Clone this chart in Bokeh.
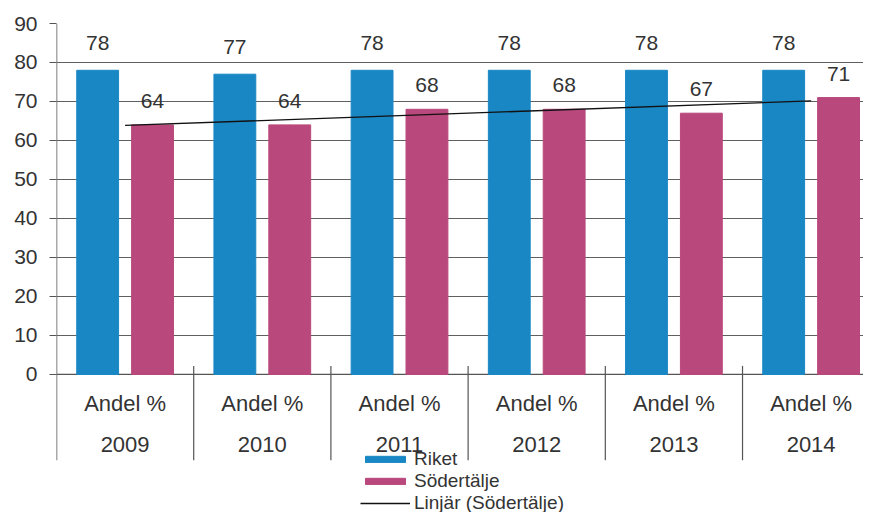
import numpy as np
from bokeh.plotting import figure
from bokeh.models import FixedTicker, Legend, LegendItem, Range1d
from bokeh.core.properties import value
from bokeh.embed import file_html
from bokeh.resources import INLINE

years = ["2009", "2010", "2011", "2012", "2013", "2014"]
sub_label = "Andel %"
riket = [78, 77, 78, 78, 78, 78]
sodertalje = [64, 64, 68, 68, 67, 71]
y_ticks = [0, 10, 20, 30, 40, 50, 60, 70, 80, 90]

FONT = "Liberation Sans"
BLUE = "#1a87c5"
PINK = "#b9487c"
TXT = "#333333"
AX = "#555555"

idx = np.arange(len(years))
centers = [float(i) + 0.5 for i in idx]
riket_x = [c - 0.2 for c in centers]
sod_x = [c + 0.2 for c in centers]

AXIS_BOTTOM = -22.0
X_END = 5.94

p = figure(width=863, height=512, output_backend="svg", toolbar_location=None,
           x_range=Range1d(0, X_END - 8 / 137.3), y_range=Range1d(-35.4, 90),
           min_border_left=56, min_border_right=0, min_border_top=23, min_border_bottom=0)
p.outline_line_color = None
p.background_fill_color = "white"

# axes
p.xaxis.visible = False
p.xgrid.visible = False
p.yaxis.ticker = FixedTicker(ticks=y_ticks)
p.yaxis.major_label_text_font = FONT
p.yaxis.major_label_text_font_size = "21px"
p.yaxis.major_label_text_color = TXT
p.yaxis.axis_line_color = None
p.yaxis.major_tick_line_color = AX
p.yaxis.major_tick_out = 7
p.yaxis.major_tick_in = 0
p.yaxis.minor_tick_line_color = None
p.yaxis.major_label_standoff = 12
p.ygrid.ticker = FixedTicker(ticks=y_ticks)
p.ygrid.grid_line_color = "#606060"
p.ygrid.grid_line_width = 1

# left axis line (extends through the category area) and zero line
p.segment(x0=[0.0], y0=[AXIS_BOTTOM], x1=[0.0], y1=[max(y_ticks)], line_color=AX, line_width=1.5)
p.segment(x0=[0.0], y0=[0.0], x1=[X_END], y1=[0.0], line_color=AX, line_width=1.2)

# bars
bw = 0.305
rb = p.vbar(x=riket_x, top=riket, bottom=0, width=bw, fill_color=BLUE, line_color=BLUE)
sb = p.vbar(x=sod_x, top=sodertalje, bottom=0, width=bw, fill_color=PINK, line_color=PINK)

# value labels
p.text(x=riket_x, y=riket, text=[str(v) for v in riket], text_align="center",
       text_baseline="middle", y_offset=-27, text_font=value(FONT),
       text_font_size="21px", text_color=TXT)
p.text(x=sod_x, y=sodertalje, text=[str(v) for v in sodertalje], text_align="center",
       text_baseline="middle", y_offset=-24, text_font=value(FONT),
       text_font_size="21px", text_color=TXT)

# linear trend line of Södertälje
k, m = np.polyfit(idx.astype(float), np.array(sodertalje, dtype=float), 1)
trend_x = [centers[0], centers[-1]]
trend_y = [float(m + k * idx[0]), float(m + k * idx[-1])]
tl = p.line(x=trend_x, y=trend_y, line_color="#111111", line_width=1.3)

# category axis (two levels) drawn as text
p.text(x=centers, y=[-7.5] * len(years), text=[sub_label] * len(years), text_align="center",
       text_baseline="middle", text_font=value(FONT), text_font_size="22px", text_color=TXT)
p.text(x=centers, y=[-18.0] * len(years), text=years, text_align="center",
       text_baseline="middle", text_font=value(FONT), text_font_size="22px", text_color=TXT)
sep_x = [float(i) for i in idx[1:]]
p.segment(x0=sep_x, y0=[2.2] * len(sep_x), x1=sep_x, y1=[AXIS_BOTTOM] * len(sep_x),
          line_color=AX, line_width=1.2)

legend = Legend(items=[
    LegendItem(label="Riket", renderers=[rb]),
    LegendItem(label="Södertälje", renderers=[sb]),
    LegendItem(label="Linjär (Södertälje)", renderers=[tl]),
], location=(304, -2), orientation="vertical")
legend.label_text_font = FONT
legend.label_text_font_size = "19px"
legend.label_text_color = TXT
legend.label_text_baseline = "middle"
legend.glyph_width = 50
legend.glyph_height = 8
legend.label_height = 18
legend.label_standoff = 4
legend.spacing = 0
legend.padding = 0
legend.margin = 0
legend.border_line_color = None
legend.background_fill_alpha = 0
p.add_layout(legend)

open("out.html", "w").write(file_html(p, INLINE))
